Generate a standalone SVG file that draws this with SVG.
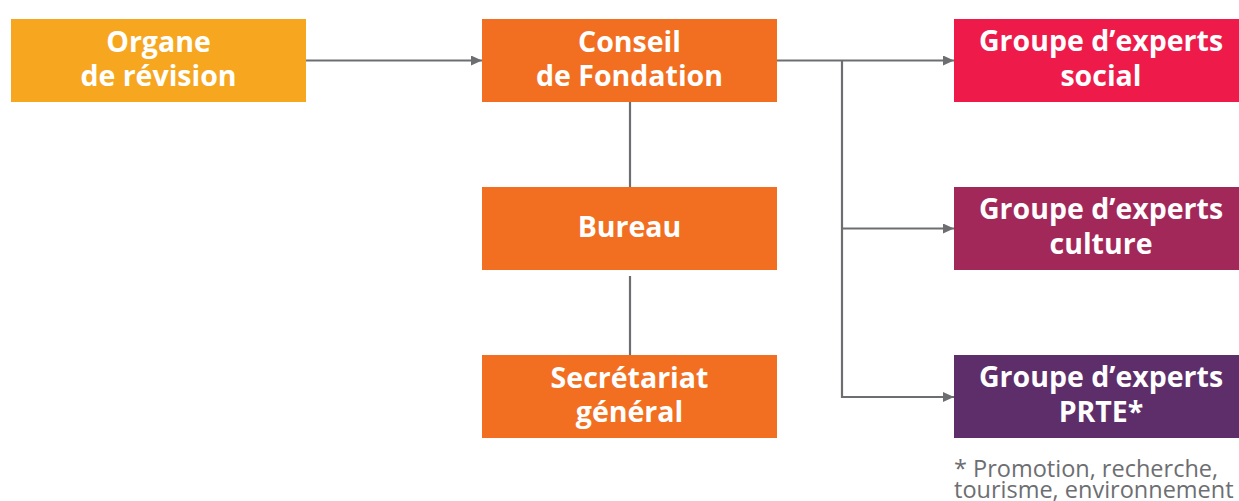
<svg xmlns="http://www.w3.org/2000/svg" width="1239" height="501" viewBox="0 0 1239 501">
<style>
.t{font-family:"Open Sans","Liberation Sans",sans-serif;font-weight:700;font-size:28.5px;fill:#fff;text-anchor:middle}
.c{stroke:#6d6e71;stroke-width:2.2;fill:none}
.n{font-family:"Open Sans","Liberation Sans",sans-serif;font-size:23.5px;fill:#6d6e71}
</style>
<defs>
<marker id="a" markerWidth="12" markerHeight="10" refX="11" refY="5" orient="auto" markerUnits="userSpaceOnUse">
<path d="M0,0 L11,5 L0,10 Z" fill="#6d6e71"/>
</marker>
</defs>
<rect width="1239" height="501" fill="#fff"/>
<g id="connectors">
<line class="c" x1="306" y1="60.5" x2="482" y2="60.5" marker-end="url(#a)"/>
<line class="c" x1="777" y1="60.5" x2="954" y2="60.5" marker-end="url(#a)"/>
<polyline class="c" points="842,60.5 842,397 954,397" marker-end="url(#a)"/>
<line class="c" x1="842" y1="228.5" x2="954" y2="228.5" marker-end="url(#a)"/>
<line class="c" x1="630" y1="102" x2="630" y2="194"/>
<line class="c" x1="630" y1="276" x2="630" y2="356"/>
</g>
<g id="organe">
<rect x="11" y="19" width="295" height="83" fill="#f6a71f"/>
<text class="t" x="158.5" y="52">Organe</text>
<text class="t" x="158.5" y="86">de révision</text>
</g>
<g id="conseil">
<rect x="482" y="19" width="295" height="83" fill="#f26f21"/>
<text class="t" x="629.5" y="52">Conseil</text>
<text class="t" x="629.5" y="86">de Fondation</text>
</g>
<g id="bureau">
<rect x="482" y="187" width="295" height="83" fill="#f26f21"/>
<text class="t" x="629.5" y="237">Bureau</text>
</g>
<g id="secretariat">
<rect x="482" y="355" width="295" height="83" fill="#f26f21"/>
<text class="t" x="629.5" y="388">Secrétariat</text>
<text class="t" x="629.5" y="422">général</text>
</g>
<g id="social">
<rect x="954" y="19" width="285" height="83" fill="#ee1b4a"/>
<text class="t" x="1101" y="51">Groupe d’experts</text>
<text class="t" x="1101" y="86">social</text>
</g>
<g id="culture">
<rect x="954" y="187" width="285" height="83" fill="#a3285a"/>
<text class="t" x="1101" y="219">Groupe d’experts</text>
<text class="t" x="1101" y="254">culture</text>
</g>
<g id="prte">
<rect x="954" y="355" width="285" height="83" fill="#5e2e6a"/>
<text class="t" x="1101" y="387">Groupe d’experts</text>
<text class="t" x="1101" y="422">PRTE*</text>
</g>
<g id="note">
<text class="n" x="954" y="477">* Promotion, recherche,</text>
<text class="n" x="954" y="498">tourisme, environnement</text>
</g>
</svg>
